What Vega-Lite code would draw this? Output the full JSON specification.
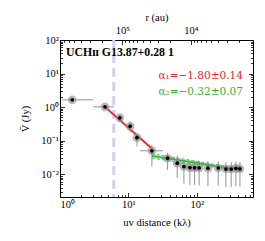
{
 "$schema": "https://vega.github.io/schema/vega-lite/v6.json",
 "width": 193, "height": 157,
 "autosize": {"type": "none"},
 "padding": {"left": 60, "top": 40, "right": 12, "bottom": 44},
 "background": "white",
 "config": {
  "view": {"stroke": "black", "strokeWidth": 1},
  "axis": {"domain": false, "grid": false, "tickColor": "black", "tickWidth": 0.8,
   "labelFont": "Liberation Serif", "labelFontSize": 10.5, "labelColor": "black",
   "titleFont": "Liberation Serif", "titleFontSize": 10.5, "titleFontWeight": "normal", "titleColor": "black"},
  "text": {"font": "Liberation Serif"}
 },
 "datasets": {
  "pts": [
   {"uv": 1.51, "V": 1.65, "xlo": 1.06, "xhi": 3.06, "vlo": 1.5, "vhi": 1.8},
   {"uv": 4.54, "V": 1.02, "xlo": 3.06, "xhi": 6.2, "vlo": 0.92, "vhi": 1.13},
   {"uv": 7.5, "V": 0.48, "xlo": 7.1, "xhi": 7.9, "vlo": 0.36, "vhi": 0.63},
   {"uv": 10.6, "V": 0.27, "xlo": 10.1, "xhi": 11.1, "vlo": 0.18, "vhi": 0.37},
   {"uv": 13.3, "V": 0.123, "xlo": 12.7, "xhi": 13.9, "vlo": 0.067, "vhi": 0.15},
   {"uv": 22, "V": 0.05, "xlo": 14.7, "xhi": 32, "vlo": 0.017, "vhi": 0.075},
   {"uv": 37.3, "V": 0.03, "xlo": 30.5, "xhi": 47.7, "vlo": 0.0135, "vhi": 0.0425},
   {"uv": 51.6, "V": 0.0214, "xlo": 47.7, "xhi": 56, "vlo": 0.0078, "vhi": 0.036},
   {"uv": 64.6, "V": 0.017, "xlo": 62, "xhi": 67, "vlo": 0.0052, "vhi": 0.027},
   {"uv": 79, "V": 0.0158, "xlo": 76, "xhi": 82, "vlo": 0.0048, "vhi": 0.025},
   {"uv": 92.5, "V": 0.0156, "xlo": 89, "xhi": 96, "vlo": 0.0047, "vhi": 0.025},
   {"uv": 108, "V": 0.0154, "xlo": 104, "xhi": 112, "vlo": 0.0046, "vhi": 0.025},
   {"uv": 145, "V": 0.0152, "xlo": 140, "xhi": 150, "vlo": 0.0045, "vhi": 0.024},
   {"uv": 205, "V": 0.0153, "xlo": 198, "xhi": 212, "vlo": 0.0046, "vhi": 0.024},
   {"uv": 265, "V": 0.0143, "xlo": 258, "xhi": 272, "vlo": 0.0042, "vhi": 0.023},
   {"uv": 317, "V": 0.0143, "xlo": 310, "xhi": 324, "vlo": 0.0042, "vhi": 0.023},
   {"uv": 371, "V": 0.015, "xlo": 362, "xhi": 380, "vlo": 0.0044, "vhi": 0.024},
   {"uv": 425, "V": 0.0145, "xlo": 415, "xhi": 435, "vlo": 0.0043, "vhi": 0.023}
  ],
  "fits": [
   {"fit": "r", "uv": 4.54, "V": 1.02, "lo": 0.94, "hi": 1.1},
   {"fit": "r", "uv": 22, "V": 0.058, "lo": 0.05, "hi": 0.066},
   {"fit": "g", "uv": 22, "V": 0.0353, "lo": 0.030, "hi": 0.041},
   {"fit": "g", "uv": 450, "V": 0.0134, "lo": 0.0124, "hi": 0.0145}
  ],
  "dash": [{"uv": 6.1}],
  "notes": [
   {"k": "name", "uv": 1.22, "V": 44, "t": "UCHɪɪ G13.87+0.28 1"},
   {"k": "a1", "uv": 470, "V": 8.5, "t": "α₁=−1.80±0.14"},
   {"k": "a2", "uv": 470, "V": 2.83, "t": "α₂=−0.32±0.07"}
  ]
 },
 "layer": [
  {
   "layer": [
    {
     "data": {"name": "dash"},
     "mark": {"type": "rule", "color": "#d8ccef", "strokeWidth": 3, "strokeDash": [9, 5]},
     "encoding": {"x": {"field": "uv", "type": "quantitative", "scale": {"type": "log", "domain": [1, 660]}, "axis": null}}
    },
    {
     "data": {"name": "fits"},
     "transform": [{"filter": "datum.fit == 'r'"}],
     "mark": {"type": "area", "color": "#e3262b", "opacity": 0.25},
     "encoding": {
      "x": {"field": "uv", "type": "quantitative", "scale": {"type": "log", "domain": [1, 660]}, "axis": null},
      "y": {"field": "lo", "type": "quantitative", "scale": {"type": "log", "domain": [0.0021, 100]}, "axis": null},
      "y2": {"field": "hi"}
     }
    },
    {
     "data": {"name": "fits"},
     "transform": [{"filter": "datum.fit == 'g'"}],
     "mark": {"type": "area", "color": "#36b136", "opacity": 0.2},
     "encoding": {
      "x": {"field": "uv", "type": "quantitative", "scale": {"type": "log", "domain": [1, 660]}, "axis": null},
      "y": {"field": "lo", "type": "quantitative", "scale": {"type": "log", "domain": [0.0021, 100]}, "axis": null},
      "y2": {"field": "hi"}
     }
    },
    {
     "data": {"name": "fits"},
     "transform": [{"filter": "datum.fit == 'g'"}],
     "mark": {"type": "line", "color": "#36b136", "strokeWidth": 0.8, "strokeDash": [3, 2]},
     "encoding": {
      "x": {"field": "uv", "type": "quantitative", "scale": {"type": "log", "domain": [1, 660]}, "axis": null},
      "y": {"field": "hi", "type": "quantitative", "scale": {"type": "log", "domain": [0.0021, 100]}, "axis": null}
     }
    },
    {
     "data": {"name": "fits"},
     "transform": [{"filter": "datum.fit == 'g'"}],
     "mark": {"type": "line", "color": "#36b136", "strokeWidth": 0.8, "strokeDash": [3, 2]},
     "encoding": {
      "x": {"field": "uv", "type": "quantitative", "scale": {"type": "log", "domain": [1, 660]}, "axis": null},
      "y": {"field": "lo", "type": "quantitative", "scale": {"type": "log", "domain": [0.0021, 100]}, "axis": null}
     }
    },
    {
     "data": {"name": "pts"},
     "mark": {"type": "rule", "color": "#666666", "strokeWidth": 0.7},
     "encoding": {
      "x": {"field": "xlo", "type": "quantitative", "scale": {"type": "log", "domain": [1, 660]}, "axis": null},
      "x2": {"field": "xhi"},
      "y": {"field": "V", "type": "quantitative", "scale": {"type": "log", "domain": [0.0021, 100]}, "axis": null}
     }
    },
    {
     "data": {"name": "pts"},
     "mark": {"type": "rule", "color": "#666666", "strokeWidth": 0.7},
     "encoding": {
      "x": {"field": "uv", "type": "quantitative", "scale": {"type": "log", "domain": [1, 660]}, "axis": null},
      "y": {"field": "vlo", "type": "quantitative", "scale": {"type": "log", "domain": [0.0021, 100]}, "axis": null},
      "y2": {"field": "vhi"}
     }
    },
    {
     "data": {"name": "fits"},
     "mark": {"type": "line", "strokeWidth": 1.6},
     "encoding": {
      "x": {"field": "uv", "type": "quantitative", "scale": {"type": "log", "domain": [1, 660]}, "axis": null},
      "y": {"field": "V", "type": "quantitative", "scale": {"type": "log", "domain": [0.0021, 100]}, "axis": null},
      "color": {"field": "fit", "type": "nominal", "scale": {"domain": ["r", "g"], "range": ["#e3262b", "#36b136"]}, "legend": null}
     }
    },
    {
     "data": {"name": "pts"},
     "mark": {"type": "point", "shape": "circle", "filled": true, "color": "#888888", "opacity": 0.6, "size": 75},
     "encoding": {
      "x": {"field": "uv", "type": "quantitative", "scale": {"type": "log", "domain": [1, 660]}, "axis": null},
      "y": {"field": "V", "type": "quantitative", "scale": {"type": "log", "domain": [0.0021, 100]}, "axis": null}
     }
    },
    {
     "data": {"name": "pts"},
     "mark": {"type": "point", "shape": "circle", "filled": true, "color": "black", "opacity": 1, "size": 14},
     "encoding": {
      "x": {"field": "uv", "type": "quantitative", "scale": {"type": "log", "domain": [1, 660]}, "axis": null},
      "y": {"field": "V", "type": "quantitative", "scale": {"type": "log", "domain": [0.0021, 100]}, "axis": null}
     }
    },
    {
     "data": {"name": "notes"},
     "transform": [{"filter": "datum.k == 'name'"}],
     "mark": {"type": "text", "align": "left", "baseline": "middle", "fontWeight": "bold", "fontSize": 11.8, "color": "black"},
     "encoding": {
      "x": {"field": "uv", "type": "quantitative", "scale": {"type": "log", "domain": [1, 660]}, "axis": null},
      "y": {"field": "V", "type": "quantitative", "scale": {"type": "log", "domain": [0.0021, 100]}, "axis": null},
      "text": {"field": "t"}
     }
    },
    {
     "data": {"name": "notes"},
     "transform": [{"filter": "datum.k != 'name'"}],
     "mark": {"type": "text", "align": "right", "baseline": "middle", "fontSize": 10.5, "font": "DejaVu Serif"},
     "encoding": {
      "x": {"field": "uv", "type": "quantitative", "scale": {"type": "log", "domain": [1, 660]}, "axis": null},
      "y": {"field": "V", "type": "quantitative", "scale": {"type": "log", "domain": [0.0021, 100]}, "axis": null},
      "text": {"field": "t"},
      "color": {"field": "k", "type": "nominal", "scale": {"domain": ["a1", "a2"], "range": ["#e3262b", "#36b136"]}, "legend": null}
     }
    }
   ]
  },
  {
   "data": {"values": [{"a": 5, "b": 1}]},
   "mark": {"type": "point", "opacity": 0},
   "encoding": {
    "x": {"field": "a", "type": "quantitative", "scale": {"type": "log", "domain": [1, 660]},
     "axis": {"orient": "bottom", "values": [1, 10, 100], "tickSize": -4.5, "labelPadding": 7,
      "labelExpr": "'10' + ['⁰','¹','²','³'][round(log(datum.value)/LN10)]",
      "title": "uv distance (kλ)", "titlePadding": 7}},
    "y": {"field": "b", "type": "quantitative", "scale": {"type": "log", "domain": [0.0021, 100]},
     "axis": {"orient": "left", "values": [0.01, 0.1, 1, 10, 100], "tickSize": -4.5, "labelPadding": 6,
      "labelExpr": "'10' + ['⁻²','⁻¹','⁰','¹','²'][round(log(datum.value)/LN10)+2]",
      "title": "V̄ (Jy)", "titlePadding": 10}}
   }
  },
  {
   "data": {"values": [{"a": 5, "b": 1}]},
   "mark": {"type": "point", "opacity": 0},
   "encoding": {
    "x": {"field": "a", "type": "quantitative", "scale": {"type": "log", "domain": [1, 660]},
     "axis": {"orient": "bottom", "values": [2,3,4,5,6,7,8,9,20,30,40,50,60,70,80,90,200,300,400,500,600], "tickSize": -2.5, "labels": false, "title": null}},
    "y": {"field": "b", "type": "quantitative", "scale": {"type": "log", "domain": [0.0021, 100]},
     "axis": {"orient": "left", "values": [0.003,0.004,0.005,0.006,0.007,0.008,0.009,0.02,0.03,0.04,0.05,0.06,0.07,0.08,0.09,0.2,0.3,0.4,0.5,0.6,0.7,0.8,0.9,2,3,4,5,6,7,8,9,20,30,40,50,60,70,80,90], "tickSize": -2.5, "labels": false, "title": null}}
   }
  },
  {
   "data": {"values": [{"r": 10000, "b": 1}]},
   "mark": {"type": "point", "opacity": 0},
   "encoding": {
    "x": {"field": "r", "type": "quantitative", "scale": {"type": "log", "domain": [1231, 812684], "reverse": true},
     "axis": {"orient": "top", "values": [10000, 100000], "tickSize": -4.5, "labelPadding": 9,
      "labelExpr": "'10' + ['³','⁴','⁵','⁶'][round(log(datum.value)/LN10)-3]",
      "title": "r (au)", "titlePadding": 3}},
    "y": {"field": "b", "type": "quantitative", "scale": {"type": "log", "domain": [0.0021, 100]},
     "axis": {"orient": "right", "values": [0.01, 0.1, 1, 10, 100], "tickSize": -4.5, "labels": false, "title": null}}
   }
  },
  {
   "data": {"values": [{"r": 10000, "b": 1}]},
   "mark": {"type": "point", "opacity": 0},
   "encoding": {
    "x": {"field": "r", "type": "quantitative", "scale": {"type": "log", "domain": [1231, 812684], "reverse": true},
     "axis": {"orient": "top", "values": [2000,3000,4000,5000,6000,7000,8000,9000,20000,30000,40000,50000,60000,70000,80000,90000,200000,300000,400000,500000,600000,700000,800000], "tickSize": -2.5, "labels": false, "title": null}},
    "y": {"field": "b", "type": "quantitative", "scale": {"type": "log", "domain": [0.0021, 100]},
     "axis": {"orient": "right", "values": [0.003,0.004,0.005,0.006,0.007,0.008,0.009,0.02,0.03,0.04,0.05,0.06,0.07,0.08,0.09,0.2,0.3,0.4,0.5,0.6,0.7,0.8,0.9,2,3,4,5,6,7,8,9,20,30,40,50,60,70,80,90], "tickSize": -2.5, "labels": false, "title": null}}
   }
  }
 ],
 "resolve": {"scale": {"x": "independent", "y": "independent"}}
}
